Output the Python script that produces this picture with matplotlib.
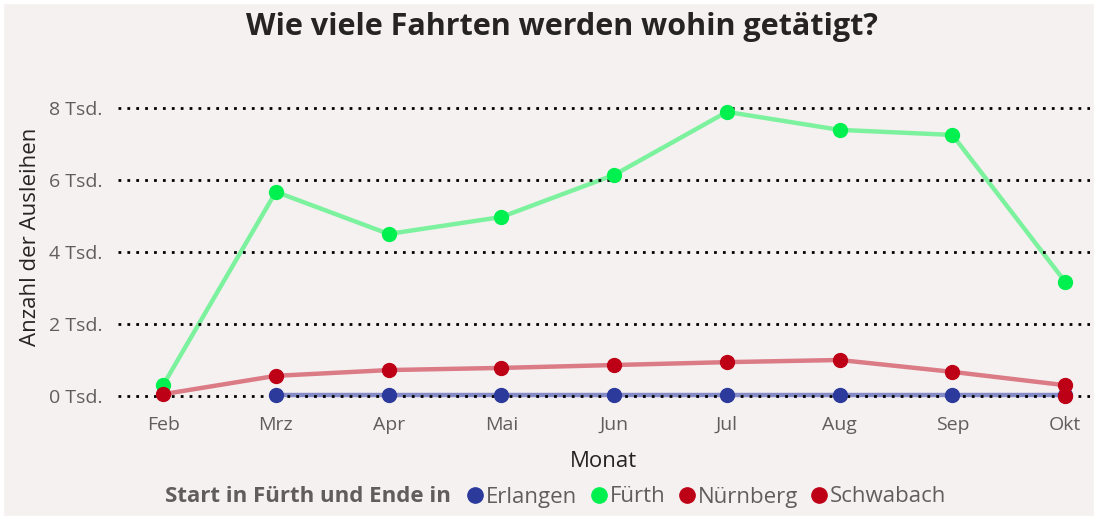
import numpy as np
import matplotlib.pyplot as plt
from matplotlib.lines import Line2D
from matplotlib.patches import Rectangle

plt.rcParams['font.family'] = ['Open Sans', 'DejaVu Sans']

months = ['Feb', 'Mrz', 'Apr', 'Mai', 'Jun', 'Jul', 'Aug', 'Sep', 'Okt']
# Werte in Tsd.
erlangen = [np.nan, 0.02, 0.02, 0.02, 0.02, 0.02, 0.02, 0.02, 0.02]
fuerth = [0.30, 5.67, 4.50, 4.97, 6.14, 7.89, 7.39, 7.25, 3.17]
nuernberg = [0.05, 0.56, 0.72, 0.78, 0.86, 0.94, 1.00, 0.67, 0.30]
schwabach = [np.nan, np.nan, np.nan, np.nan, np.nan, np.nan, np.nan, np.nan, 0.0]

series = ['Erlangen', 'Fürth', 'Nürnberg', 'Schwabach']
line_colors = ['#868CC8', '#7DF29E', '#DB7B86', '#DB7B86']
dot_colors = ['#2B3A9B', '#00F050', '#BE0016', '#BE0016']
yticks = [0, 2, 4, 6, 8]
ytick_labels = ['0 Tsd.', '2 Tsd.', '4 Tsd.', '6 Tsd.', '8 Tsd.']

bg = '#F6F1F1'
fig = plt.figure(figsize=(10.98, 5.20), dpi=100, facecolor=bg)
# weisser Rand
fig.patches.append(Rectangle((0, 0), 1, 1, transform=fig.transFigure,
                             facecolor='none', edgecolor='white', lw=6, zorder=10))

ax = fig.add_axes([118 / 1098, 1 - 405 / 520, 972 / 1098, 305 / 520])
ax.set_facecolor('none')

x = np.arange(len(months))
for vals, lc, dc in zip([erlangen, fuerth, nuernberg, schwabach], line_colors, dot_colors):
    ax.plot(x, vals, color=lc, lw=3.2, solid_capstyle='round', zorder=3)
    ax.plot(x, vals, 'o', color=dc, ms=10, zorder=4)

for t in yticks:
    ax.axhline(t, color='black', lw=2, linestyle=(0, (1, 2.2)), zorder=3.5)

ax.set_xlim(-0.4, 8.22)
ax.set_ylim(-0.25, 8.22)
ax.set_xticks(x)
ax.set_xticklabels(months)
ax.set_yticks(yticks)
ax.set_yticklabels(ytick_labels)
ax.tick_params(length=0, labelsize=14, colors='#605E5C')
ax.tick_params(axis='y', pad=11)
ax.tick_params(axis='x', pad=8)
for s in ax.spines.values():
    s.set_visible(False)

ax.set_xlabel('Monat', fontsize=16, color='#252423', labelpad=12)
ax.set_ylabel('Anzahl der Ausleihen', fontsize=16, color='#252423')
ax.yaxis.set_label_coords(-0.079, 0.551)

fig.text(0.512, 1 - 27 / 520, 'Wie viele Fahrten werden wohin getätigt?',
         ha='center', va='center', fontsize=22, fontweight='bold', color='#252423')

fig.text(165 / 1098, 1 - 497 / 520, 'Start in Fürth und Ende in', ha='left',
         va='center', fontsize=16, fontweight='bold', color='#605E5C')
handles = [Line2D([], [], marker='o', ls='none', color=c, ms=11) for c in dot_colors]
leg = fig.legend(handles, series, loc='center left', ncol=4,
                 bbox_to_anchor=(464 / 1098, 1 - 497 / 520), frameon=False,
                 fontsize=16, handletextpad=0.0, columnspacing=0.45,
                 handlelength=1.0, borderaxespad=0, borderpad=0)
for t in leg.get_texts():
    t.set_color('#605E5C')

fig.savefig('out.png', dpi=100, facecolor=bg)
